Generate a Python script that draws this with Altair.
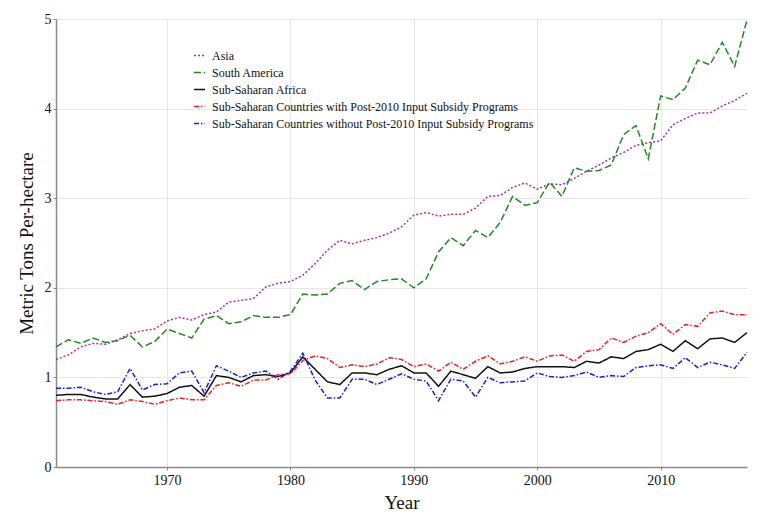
import altair as alt
import pandas as pd

years = list(range(1961, 2018))

asia = [1.20, 1.25, 1.34, 1.38, 1.37, 1.42, 1.49, 1.52, 1.54, 1.63,
        1.67, 1.64, 1.70, 1.73, 1.84, 1.86, 1.88, 2.01, 2.05, 2.07,
        2.14, 2.27, 2.42, 2.53, 2.49, 2.53, 2.56, 2.61, 2.68, 2.81,
        2.84, 2.80, 2.82, 2.82, 2.89, 3.02, 3.03, 3.12, 3.17, 3.10,
        3.16, 3.15, 3.22, 3.30, 3.37, 3.45, 3.51, 3.59, 3.62, 3.64,
        3.82, 3.89, 3.95, 3.95, 4.03, 4.09, 4.17]

south_america = [1.34, 1.42, 1.38, 1.44, 1.39, 1.41, 1.47, 1.34, 1.40, 1.54,
                 1.49, 1.44, 1.65, 1.69, 1.60, 1.62, 1.69, 1.67, 1.67, 1.70,
                 1.93, 1.92, 1.93, 2.05, 2.08, 1.98, 2.07, 2.09, 2.10, 2.00,
                 2.10, 2.40, 2.56, 2.47, 2.64, 2.56, 2.73, 3.02, 2.92, 2.95,
                 3.18, 3.02, 3.34, 3.30, 3.31, 3.37, 3.71, 3.81, 3.44, 4.14,
                 4.10, 4.23, 4.54, 4.49, 4.74, 4.47, 4.99]

ssa = [0.80, 0.81, 0.81, 0.78, 0.76, 0.76, 0.92, 0.78, 0.79, 0.82,
       0.89, 0.91, 0.79, 1.02, 1.00, 0.95, 1.02, 1.03, 1.01, 1.05,
       1.23, 1.09, 0.95, 0.92, 1.05, 1.05, 1.03, 1.09, 1.13, 1.05,
       1.05, 0.90, 1.07, 1.03, 0.99, 1.12, 1.05, 1.06, 1.10, 1.12,
       1.12, 1.12, 1.11, 1.18, 1.16, 1.23, 1.21, 1.29, 1.31, 1.37,
       1.29, 1.41, 1.32, 1.43, 1.44, 1.39, 1.50]

ssa_with = [0.74, 0.75, 0.75, 0.74, 0.73, 0.70, 0.75, 0.73, 0.70, 0.74,
            0.77, 0.75, 0.75, 0.91, 0.94, 0.90, 0.97, 0.97, 1.03, 1.04,
            1.19, 1.24, 1.21, 1.11, 1.14, 1.12, 1.15, 1.22, 1.20, 1.12,
            1.15, 1.07, 1.17, 1.09, 1.18, 1.24, 1.15, 1.18, 1.23, 1.18,
            1.24, 1.25, 1.18, 1.29, 1.31, 1.44, 1.39, 1.46, 1.50, 1.60,
            1.48, 1.59, 1.57, 1.72, 1.74, 1.70, 1.70]

ssa_without = [0.88, 0.88, 0.89, 0.84, 0.81, 0.84, 1.10, 0.86, 0.92, 0.93,
               1.05, 1.07, 0.83, 1.13, 1.07, 1.00, 1.05, 1.07, 0.98, 1.07,
               1.27, 0.97, 0.77, 0.77, 0.98, 0.98, 0.92, 0.98, 1.04, 0.98,
               0.96, 0.74, 0.98, 0.96, 0.78, 1.00, 0.94, 0.95, 0.96, 1.05,
               1.01, 1.00, 1.02, 1.06, 1.00, 1.02, 1.01, 1.11, 1.13, 1.14,
               1.10, 1.22, 1.11, 1.17, 1.14, 1.10, 1.28]

series_names = [
    "Asia",
    "South America",
    "Sub-Saharan Africa",
    "Sub-Saharan Countries with Post-2010 Input Subsidy Programs",
    "Sub-Saharan Countries without Post-2010 Input Subsidy Programs",
]
series_values = [asia, south_america, ssa, ssa_with, ssa_without]
series_colors = ["#a630b8", "#1e8c1e", "#111111", "#ff1a1a", "#1a1aff"]
series_dashes = [[2, 2], [7, 3], [1, 0], [5, 2, 1.5, 2], [5, 2, 1.5, 2]]

x_ticks = [1970, 1980, 1990, 2000, 2010]
y_ticks = [0, 1, 2, 3, 4, 5]

rows = []
for name, vals in zip(series_names, series_values):
    for yr, v in zip(years, vals):
        rows.append({"Year": yr, "Value": v, "Series": name})
df = pd.DataFrame(rows)

FONT = "Liberation Serif"


def make_legend():
    return alt.Legend(title=None, orient="none", legendX=137, legendY=30,
                      symbolType="stroke", symbolSize=121,
                      symbolStrokeWidth=1.5, labelFont=FONT,
                      labelFontSize=12, labelColor="#111111",
                      labelLimit=600, rowPadding=4, labelOffset=6,
                      padding=0)


chart = alt.Chart(df).mark_line(strokeWidth=1.5).encode(
    x=alt.X("Year:Q",
            scale=alt.Scale(domain=[1961, 2017], nice=False, zero=False),
            axis=alt.Axis(values=x_ticks, format="d", title="Year",
                          labelFontSize=14, titleFontSize=19,
                          titleFontWeight="normal", labelPadding=3,
                          tickSize=3, titlePadding=6)),
    y=alt.Y("Value:Q",
            scale=alt.Scale(domain=[0, 5], nice=False),
            axis=alt.Axis(values=y_ticks, title="Metric Tons Per-hectare",
                          labelFontSize=14, titleFontSize=19,
                          titleFontWeight="normal", labelPadding=2,
                          tickSize=3, titlePadding=8)),
    color=alt.Color("Series:N",
                    scale=alt.Scale(domain=series_names, range=series_colors),
                    legend=make_legend()),
    strokeDash=alt.StrokeDash("Series:N",
                              scale=alt.Scale(domain=series_names,
                                              range=series_dashes),
                              legend=make_legend()),
).properties(
    width=691,
    height=448,
    autosize=alt.AutoSizeParams(type="none"),
    padding={"left": 48, "top": 11, "right": 24, "bottom": 44},
    background="white",
).configure_view(
    stroke=None
).configure_axis(
    labelFont=FONT,
    titleFont=FONT,
    labelColor="#111111",
    titleColor="#111111",
    gridColor="#e6e6e6",
    domainColor="#8a8a8a",
    tickColor="#8a8a8a",
    domainWidth=1.5,
)

chart.save("out.html", embed_options={"renderer": "svg", "actions": False})
